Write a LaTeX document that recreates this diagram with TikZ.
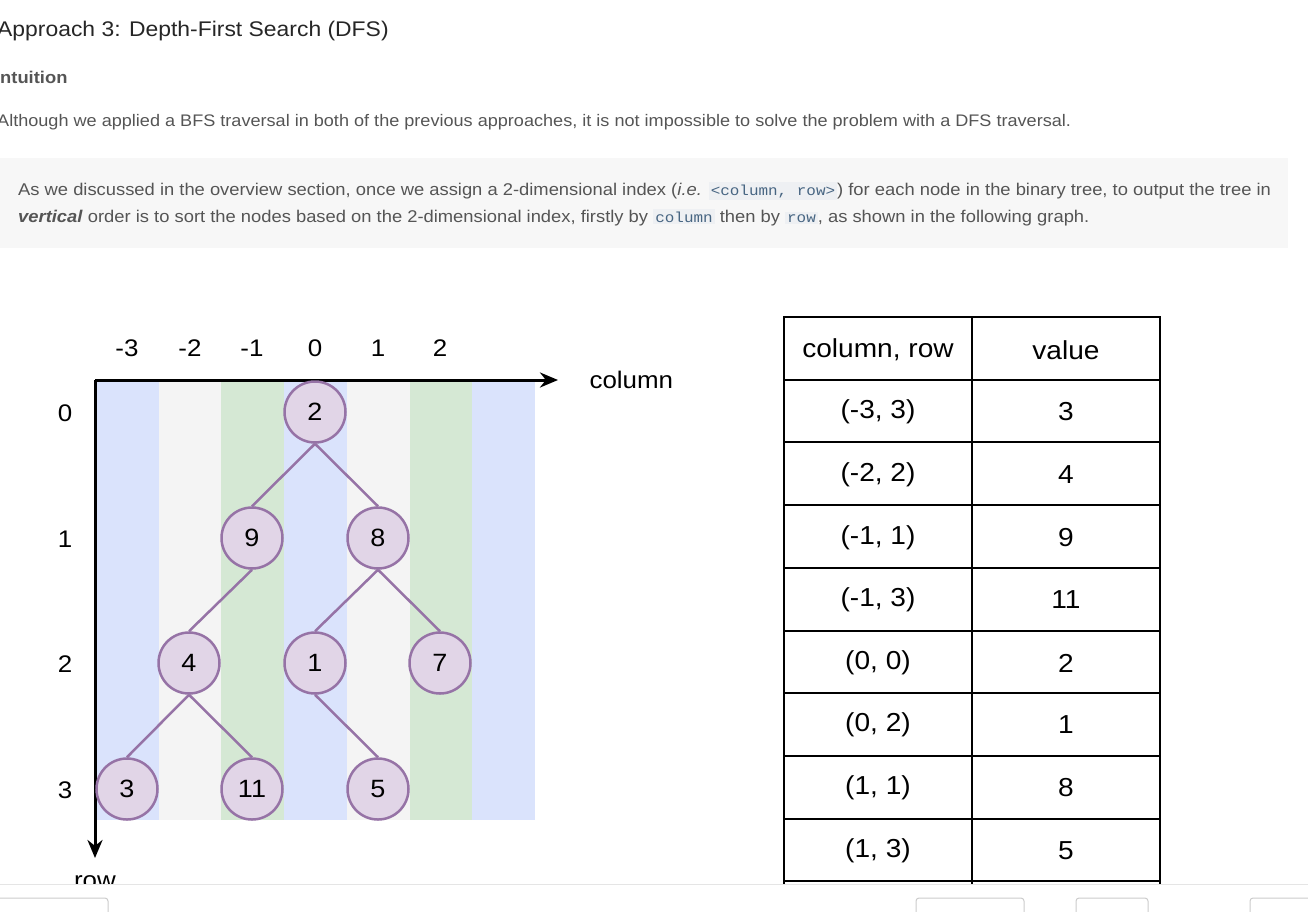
\documentclass[tikz,border=0pt]{standalone}
\usepackage{fontspec}
\setmainfont{Liberation Sans}[FakeStretch=1.08]
\setmonofont{Liberation Mono}[FakeStretch=1.1]
\usetikzlibrary{arrows.meta}

\definecolor{stripeblue}{HTML}{DAE3FC}
\definecolor{stripegray}{HTML}{F4F4F4}
\definecolor{stripegreen}{HTML}{D5E8D4}
\definecolor{nodefill}{HTML}{E1D5E7}
\definecolor{nodeline}{HTML}{9673A6}
\definecolor{boxgray}{HTML}{F7F7F7}
\definecolor{bodygray}{HTML}{555555}
\definecolor{codeblue}{HTML}{476582}
\definecolor{codebg}{HTML}{EEF0F3}

\newcommand{\codechip}[1]{{\setlength{\fboxsep}{2pt}\colorbox{codebg}{\textcolor{codeblue}{\fontsize{14.5}{16}\selectfont\ttfamily #1}}}}

\begin{document}
\begin{tikzpicture}
    [x=1pt,y=-1pt,>={Stealth[length=18pt,width=15pt]},
    treenode/.style={circle,draw=nodeline,fill=nodefill,line width=2.5pt,minimum size=61pt,inner sep=0pt,font=\fontsize{25}{29}\selectfont},
    edge/.style={draw=nodeline,line width=2.5pt},
    axislabel/.style={font=\fontsize{24}{28}\selectfont},
    cell/.style={font=\fontsize{26}{30}\selectfont},
    pagetext/.style={anchor=base west,inner sep=0pt,text=bodygray,font=\fontsize{17}{20}\selectfont}]
    \useasboundingbox (0,0) rectangle (1308,911);

    %Text above
    \node[anchor=base west,inner sep=0pt,text=black!85,font=\fontsize{21.2}{25}\selectfont] (title) at (-3,36) {Approach 3: Depth-First Search (DFS)};
    \node[pagetext,font=\fontsize{17}{20}\selectfont\bfseries] (intuition) at (0,83) {ntuition};
    \node[pagetext,font=\fontsize{16.75}{20}\selectfont] (although) at (-3,126) {Although we applied a BFS traversal in both of the previous approaches, it is not impossible to solve the problem with a DFS traversal.};
    \fill[boxgray] (0,158) rectangle (1288,248);
    \node[pagetext] (lineA) at (18,195) {As we discussed in the overview section, once we assign a 2-dimensional index (\textit{i.e.} \codechip{<column, row>}) for each node in the binary tree, to output the tree in};
    \node[pagetext] (lineB) at (18,222) {\textbf{\textit{vertical}} order is to sort the nodes based on the 2-dimensional index, firstly by \codechip{column} then by \codechip{row}, as shown in the following graph.};

    %Stripes
    \fill[stripeblue] (96,380) rectangle (159,820);
    \fill[stripegray] (159,380) rectangle (221,820);
    \fill[stripegreen] (221,380) rectangle (284,820);
    \fill[stripeblue] (284,380) rectangle (347,820);
    \fill[stripegray] (347,380) rectangle (410,820);
    \fill[stripegreen] (410,380) rectangle (472,820);
    \fill[stripeblue] (472,380) rectangle (535,820);

    %Axes
    \coordinate (O) at (95,380);
    \coordinate (colEnd) at (558,380);
    \coordinate (rowEnd) at (95,858);
    \draw[->,line width=3pt] (O) -- (colEnd);
    \draw[->,line width=3pt] (O) -- (rowEnd);
    \node[axislabel,anchor=west] (colname) at (586,380) {column};
    \node[axislabel,anchor=base] (rowname) at (95,888) {row};

    %Column and row labels
    \node[axislabel] (cm3) at (127,348) {-3};
    \node[axislabel] (cm2) at (190,348) {-2};
    \node[axislabel] (cm1) at (252,348) {-1};
    \node[axislabel] (c0) at (315,348) {0};
    \node[axislabel] (c1) at (378,348) {1};
    \node[axislabel] (c2) at (440,348) {2};
    \node[axislabel] (r0) at (65,413) {0};
    \node[axislabel] (r1) at (65,539) {1};
    \node[axislabel] (r2) at (65,664) {2};
    \node[axislabel] (r3) at (65,790) {3};

    %Nodes
    \node[treenode] (n2) at (315,412) {2};
    \node[treenode] (n9) at (252,538) {9};
    \node[treenode] (n8) at (378,538) {8};
    \node[treenode] (n4) at (189,663) {4};
    \node[treenode] (n1) at (315,663) {1};
    \node[treenode] (n7) at (440,663) {7};
    \node[treenode] (n3) at (127,789) {3};
    \node[treenode] (n11) at (252,789) {11};
    \node[treenode] (n5) at (378,789) {5};

    %Edges
    \draw[edge] (n2.south) -- (n9.north);
    \draw[edge] (n2.south) -- (n8.north);
    \draw[edge] (n9.south) -- (n4.north);
    \draw[edge] (n8.south) -- (n1.north);
    \draw[edge] (n8.south) -- (n7.north);
    \draw[edge] (n4.south) -- (n3.north);
    \draw[edge] (n4.south) -- (n11.north);
    \draw[edge] (n1.south) -- (n5.north);

    %Table
    \draw[line width=2pt] (784,317) -- (1160,317);
    \draw[line width=2pt] (784,380) -- (1160,380);
    \draw[line width=2pt] (784,442) -- (1160,442);
    \draw[line width=2pt] (784,505) -- (1160,505);
    \draw[line width=2pt] (784,568) -- (1160,568);
    \draw[line width=2pt] (784,631) -- (1160,631);
    \draw[line width=2pt] (784,693) -- (1160,693);
    \draw[line width=2pt] (784,756) -- (1160,756);
    \draw[line width=2pt] (784,819) -- (1160,819);
    \draw[line width=2pt] (784,881) -- (1160,881);
    \draw[line width=2pt] (784,316) -- (784,900);
    \draw[line width=1.5pt] (972,316) -- (972,900);
    \draw[line width=2pt] (1160,316) -- (1160,900);
    \node[cell] (h1) at (878,350) {column, row};
    \node[cell] (h2) at (1066,350) {value};
    \node[cell] (k1) at (878,412) {(-3, 3)};
    \node[cell] (v1) at (1066,412) {3};
    \node[cell] (k2) at (878,475) {(-2, 2)};
    \node[cell] (v2) at (1066,475) {4};
    \node[cell] (k3) at (878,538) {(-1, 1)};
    \node[cell] (v3) at (1066,538) {9};
    \node[cell] (k4) at (878,600) {(-1, 3)};
    \node[cell] (v4) at (1066,600) {11};
    \node[cell] (k5) at (878,663) {(0, 0)};
    \node[cell] (v5) at (1066,663) {2};
    \node[cell] (k6) at (878,725) {(0, 2)};
    \node[cell] (v6) at (1066,725) {1};
    \node[cell] (k7) at (878,788) {(1, 1)};
    \node[cell] (v7) at (1066,788) {8};
    \node[cell] (k8) at (878,851) {(1, 3)};
    \node[cell] (v8) at (1066,851) {5};

    %Bottom bar
    \fill[white] (0,884) rectangle (1308,911);
    \draw[line width=1pt,black!10] (0,884) -- (1308,884);
    \draw[line width=1pt,black!20,rounded corners=3pt] (-6,898) rectangle (108,920);
    \draw[line width=1pt,black!20,rounded corners=3pt] (916,898) rectangle (1024,920);
    \draw[line width=1pt,black!20,rounded corners=3pt] (1076,898) rectangle (1148,920);
    \draw[line width=1pt,black!20,rounded corners=3pt] (1250,898) rectangle (1320,920);
\end{tikzpicture}
\end{document}
